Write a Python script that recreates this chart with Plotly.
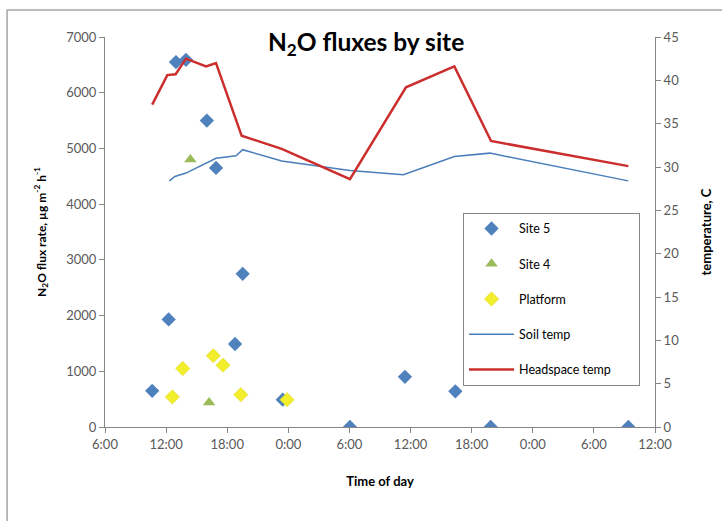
import plotly.graph_objects as go

# N2O flux samples (µg m-2 h-1)
site5_time = [
    "2010-07-01 10:38", "2010-07-01 12:15", "2010-07-01 12:58", "2010-07-01 13:57",
    "2010-07-01 16:00", "2010-07-01 16:54", "2010-07-01 18:46", "2010-07-01 19:31",
    "2010-07-01 23:27", "2010-07-02 06:03", "2010-07-02 11:27", "2010-07-02 16:24",
    "2010-07-02 19:52", "2010-07-03 09:23",
]
site5_flux = [650, 1930, 6550, 6590, 5500, 4650, 1490, 2750, 490, 0, 900, 640, 0, 0]

site4_time = ["2010-07-01 14:23", "2010-07-01 16:13"]
site4_flux = [4800, 440]

platform_time = [
    "2010-07-01 12:37", "2010-07-01 13:38", "2010-07-01 16:38",
    "2010-07-01 17:35", "2010-07-01 19:20", "2010-07-01 23:52",
]
platform_flux = [540, 1050, 1280, 1110, 580, 490]

# temperatures (C)
soil_time = [
    "2010-07-01 12:19", "2010-07-01 12:52", "2010-07-01 13:57", "2010-07-01 16:54",
    "2010-07-01 18:52", "2010-07-01 19:31", "2010-07-01 23:21", "2010-07-02 06:03",
    "2010-07-02 11:18", "2010-07-02 16:18", "2010-07-02 19:48", "2010-07-03 09:23",
]
soil_temp = [28.4, 28.9, 29.3, 31.0, 31.3, 32.0, 30.7, 29.6, 29.1, 31.2, 31.6, 28.4]

head_time = [
    "2010-07-01 10:38", "2010-07-01 12:07", "2010-07-01 12:56", "2010-07-01 13:57",
    "2010-07-01 15:55", "2010-07-01 16:54", "2010-07-01 19:25", "2010-07-01 23:21",
    "2010-07-02 06:03", "2010-07-02 11:33", "2010-07-02 16:18", "2010-07-02 19:54",
    "2010-07-03 09:23",
]
head_temp = [37.2, 40.6, 40.7, 42.5, 41.6, 42.0, 33.6, 32.1, 28.6, 39.2, 41.6, 33.0, 30.1]

FONT = "Lato, 'Open Sans', sans-serif"
AXIS_GREY = "#868686"
TICK_GREY = "#595959"
PAD = "\u00a0" * 7  # extra room on the right of the legend box

fig = go.Figure()

fig.add_trace(go.Scatter(
    x=site5_time, y=site5_flux, mode="markers", name="Site 5" + PAD, legendgroup="a",
    marker=dict(symbol="diamond", size=11, color="#4F81BD"),
))
fig.add_trace(go.Scatter(
    x=site4_time, y=site4_flux, mode="markers", name="Site 4" + PAD, legendgroup="b",
    marker=dict(symbol="triangle-up", size=11, color="#9BBB59"),
))
fig.add_trace(go.Scatter(
    x=platform_time, y=platform_flux, mode="markers", name="Platform" + PAD, legendgroup="c",
    marker=dict(symbol="diamond", size=11, color="#F2EE2C",
                line=dict(color="#D8D420", width=0.5)),
))
fig.add_trace(go.Scatter(
    x=soil_time, y=soil_temp, mode="lines", name="Soil temp" + PAD, legendgroup="d",
    yaxis="y2", line=dict(color="#4A7EBB", width=1.5),
))
fig.add_trace(go.Scatter(
    x=head_time, y=head_temp, mode="lines", name="Headspace temp" + PAD, legendgroup="e",
    yaxis="y2", line=dict(color="#CC2E2E", width=2.5),
))

axis_common = dict(
    showgrid=False, zeroline=False, showline=True, linecolor=AXIS_GREY, linewidth=1,
    ticks="outside", ticklen=5, tickcolor=AXIS_GREY,
    tickfont=dict(family=FONT, size=13, color=TICK_GREY),
)

fig.update_layout(
    width=722, height=521,
    margin=dict(l=105, r=67, t=37, b=94),
    paper_bgcolor="white", plot_bgcolor="white",
    font=dict(family=FONT, color="#000000"),
    title=dict(
        text="<b>N<sub>2</sub>O fluxes by site</b>",
        x=0.507, xanchor="center", y=0.919, yanchor="middle",
        font=dict(family=FONT, size=24.5, color="#000000"),
    ),
    xaxis=dict(
        axis_common,
        type="date", range=["2010-07-01 06:00", "2010-07-03 12:00"],
        tick0="2010-07-01 06:00", dtick=6 * 3600 * 1000, tickformat="%-H:%M",
        title=dict(text="<b>Time of day</b>", font=dict(family=FONT, size=13), standoff=26),
    ),
    yaxis=dict(
        axis_common,
        range=[0, 7000], dtick=1000,
        title=dict(text="<b>N<sub>2</sub>O flux rate, µg m<sup>-2</sup> h<sup>-1</sup></b>",
                   font=dict(family=FONT, size=12), standoff=17),
    ),
    yaxis2=dict(
        axis_common,
        overlaying="y", side="right", range=[0, 45], dtick=5,
        title=dict(text="<b>temperature, C</b>", font=dict(family=FONT, size=13), standoff=23),
    ),
    legend=dict(
        x=0.651, y=0.549, xanchor="left", yanchor="top",
        bgcolor="white", bordercolor=AXIS_GREY, borderwidth=1,
        font=dict(family=FONT, size=12.5, color="#000000"),
        tracegroupgap=16, itemwidth=45,
    ),
    showlegend=True,
)

# outer chart frame (cropped at right and bottom in the original)
fig.add_shape(
    type="rect", xref="paper", yref="paper",
    x0=-0.178, x1=1.3, y0=-0.5, y1=1.069,
    line=dict(color="#A6A6A6", width=1.5), layer="below",
)

fig.write_html(
    "out.html",
    config={"displayModeBar": False},
    post_script="document.body.style.margin = '0';",
)
